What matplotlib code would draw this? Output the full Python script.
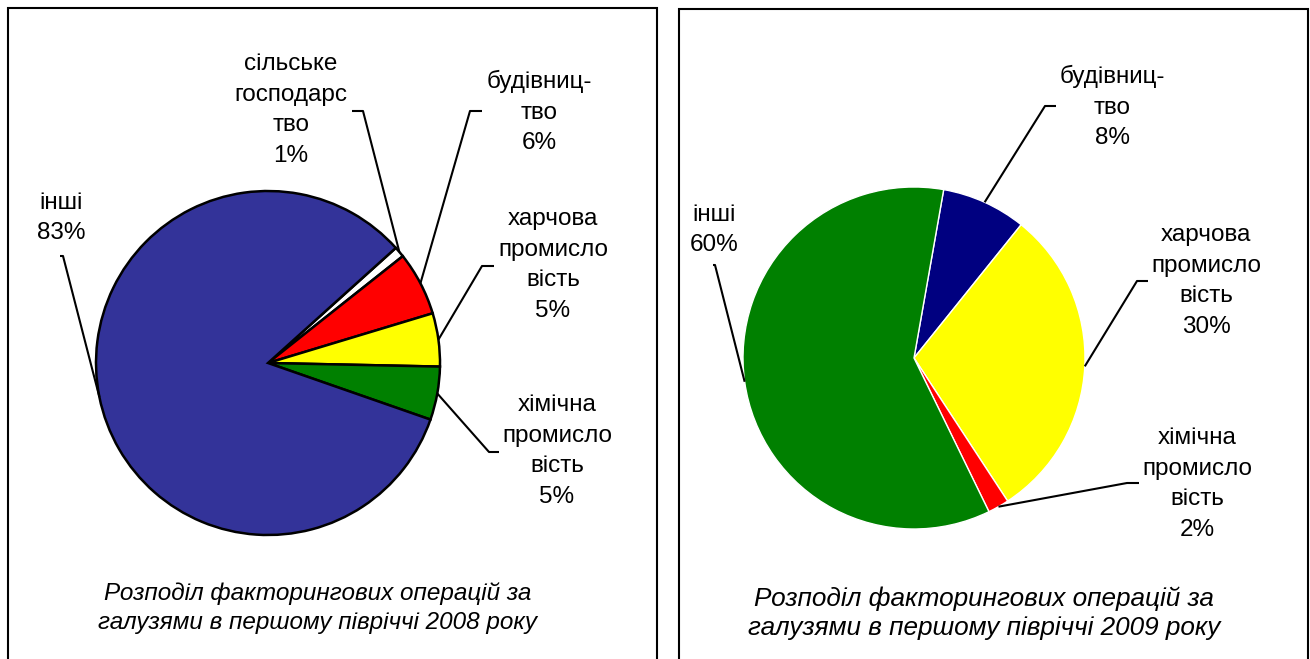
import matplotlib.pyplot as plt
from matplotlib.patches import Rectangle
import math

plt.rcParams['font.family'] = ['Liberation Sans', 'DejaVu Sans']

# ---- data ----
labels_2008 = ['сільське\nгосподарс\nтво', 'будівниц-\nтво', 'харчова\nпромисло\nвість',
               'хімічна\nпромисло\nвість', 'інші']
values_2008 = [1, 6, 5, 5, 83]
colors_2008 = ['#FFFFFF', '#FF0000', '#FFFF00', '#008000', '#333399']

labels_2009 = ['будівниц-\nтво', 'харчова\nпромисло\nвість', 'хімічна\nпромисло\nвість', 'інші']
values_2009 = [8, 30, 2, 60]
colors_2009 = ['#000080', '#FFFF00', '#FF0000', '#008000']

title_2008 = 'Розподіл факторингових операцій за\nгалузями в першому півріччі 2008 року'
title_2009 = 'Розподіл факторингових операцій за\nгалузями в першому півріччі 2009 року'

W, H = 1310, 659


def fy(y):
    # picture y (from top) -> axes y (from bottom)
    return H - y


fig = plt.figure(figsize=(W / 100, H / 100), dpi=100)
ax = fig.add_axes([0, 0, 1, 1])


def draw_pie(vals, cols, start, cx, cy, r, edge, lw):
    wedges, _ = ax.pie(vals, colors=cols, startangle=start, counterclock=False,
                       center=(cx, fy(cy)), radius=r,
                       wedgeprops=dict(edgecolor=edge, linewidth=lw))
    anchors = []
    for w in wedges:
        a = math.radians((w.theta1 + w.theta2) / 2)
        anchors.append((cx + r * math.cos(a), fy(cy) + r * math.sin(a)))
    return anchors


def label(txt, x, y, anchor, path):
    ax.text(x, fy(y), txt, ha='center', va='center', fontsize=17.5,
            linespacing=1.52, multialignment='center')
    xs = [p[0] for p in path] + [anchor[0]]
    ys = [fy(p[1]) for p in path] + [anchor[1]]
    ax.plot(xs, ys, color='black', lw=1.5, solid_capstyle='butt')


# ---- 2008 ----
anc = draw_pie(values_2008, colors_2008, 42, 268, 363, 172, 'black', 1.8)
pos_2008 = [(291, 110), (539, 112), (553, 265), (557, 451), (61, 218)]
paths_2008 = [[(352, 111), (363, 111)],
              [(482, 111), (470, 111)],
              [(494, 266), (482, 266)],
              [(499, 452), (489, 452)],
              [(60, 256), (63, 256)]]
for i in range(len(values_2008)):
    txt = labels_2008[i] + '\n' + str(values_2008[i]) + '%'
    label(txt, pos_2008[i][0], pos_2008[i][1], anc[i], paths_2008[i])

ax.text(318, fy(608), title_2008, ha='center', va='center', fontsize=17.5,
        style='italic', linespacing=1.34)

# ---- 2009 ----
anc = draw_pie(values_2009, colors_2009, 80, 914, 358, 171, 'white', 1.0)
pos_2009 = [(1112, 107), (1206, 281), (1197, 484), (714, 230)]
paths_2009 = [[(1056, 106), (1045, 106)],
              [(1148, 281), (1137, 281)],
              [(1139, 483), (1127, 483)],
              [(713, 265), (715, 265)]]
for i in range(len(values_2009)):
    txt = labels_2009[i] + '\n' + str(values_2009[i]) + '%'
    label(txt, pos_2009[i][0], pos_2009[i][1], anc[i], paths_2009[i])

ax.text(984, fy(613), title_2009, ha='center', va='center', fontsize=18.8,
        style='italic', linespacing=1.25)

# frames round the two charts
ax.add_patch(Rectangle((8, fy(700)), 649, 692, fill=False, ec='black', lw=1.5))
ax.add_patch(Rectangle((679, fy(700)), 629, 691, fill=False, ec='black', lw=1.5))

ax.set_xlim(0, W)
ax.set_ylim(0, H)
ax.set_aspect('equal')
ax.axis('off')

fig.savefig('out.png', dpi=100)
